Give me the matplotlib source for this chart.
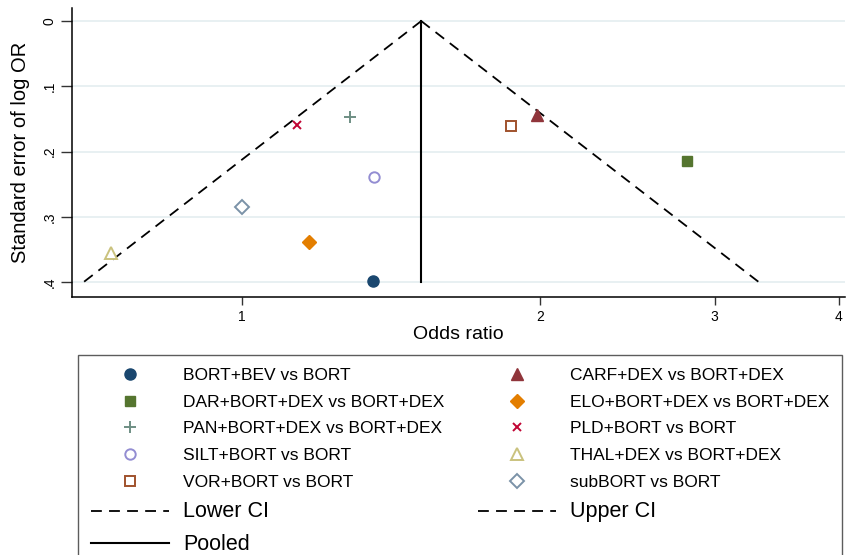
"""
Funnel plot of study odds ratios against the standard error of log OR
"""

import numpy as np
import matplotlib.pyplot as plt
from matplotlib.lines import Line2D

# study comparisons, odds ratios and standard errors of log OR
studies = ['BORT+BEV vs BORT', 'CARF+DEX vs BORT+DEX', 'DAR+BORT+DEX vs BORT+DEX',
           'ELO+BORT+DEX vs BORT+DEX', 'PAN+BORT+DEX vs BORT+DEX', 'PLD+BORT vs BORT',
           'SILT+BORT vs BORT', 'THAL+DEX vs BORT+DEX', 'VOR+BORT vs BORT', 'subBORT vs BORT']
odds_ratio = [1.357, 1.986, 2.814, 1.170, 1.286, 1.137, 1.360, 0.738, 1.870, 1.000]
se_log_or = [0.398, 0.144, 0.215, 0.339, 0.147, 0.159, 0.239, 0.356, 0.161, 0.285]

# pooled estimate and the standard error range of the funnel
pooled_or = 1.517
se_range = [0.0, 0.4]

# stata s2color palette and symbols, in study order
colors = ['#1a476f', '#90353b', '#55752f', '#e37e00', '#6e8e84',
          '#c10534', '#938dd2', '#cac27e', '#a0522d', '#7b92a8']
markers = ['o', '^', 's', 'D', '+', 'x', 'o', '^', 's', 'D']
hollow = [False]*6 + [True]*4
msizes = [8, 8.5, 7.5, 7.5, 8, 5.5, 7.5, 8, 7.5, 7.5]

plt.rcParams['font.family'] = ['Liberation Sans', 'DejaVu Sans']
plt.close('all')
fig = plt.figure(figsize=(8.48, 5.55), dpi=100)
ax = fig.add_axes([72/848, 1-297/555, (845-72)/848, (297-8)/555])

# funnel limits: 95% pseudo confidence lines
se = np.array(se_range)
lower = np.exp(np.log(pooled_or) - 1.96*se)
upper = np.exp(np.log(pooled_or) + 1.96*se)
ax.plot(lower, se, color='black', lw=1.3, dashes=(6, 4), zorder=2)
ax.plot(upper, se, color='black', lw=1.3, dashes=(6, 4), zorder=2)
ax.plot([pooled_or, pooled_or], se, color='black', lw=1.5, zorder=2)

handles = []
for name, orv, s, c, m, h, ms in zip(studies, odds_ratio, se_log_or, colors, markers, hollow, msizes):
    kw = dict(marker=m, ms=ms, linestyle='none', label=name)
    if h:
        kw.update(mfc='white', mec=c, mew=1.4)
    elif m in ('+', 'x'):
        kw.update(color=c, mew=1.4)
    else:
        kw.update(color=c, mec=c)
    ln, = ax.plot([orv], [s], zorder=3, **kw)
    handles.append(ln)

ax.set_xscale('log')
ax.set_xlim(0.674, 4.06)
ax.set_ylim(0.423, -0.02)
ax.set_xticks([1, 2, 3, 4])
ax.set_xticklabels(['1', '2', '3', '4'])
ax.xaxis.set_minor_locator(plt.NullLocator())
ax.set_yticks([0, 0.1, 0.2, 0.3, 0.4])
ax.set_yticklabels(['0', '.1', '.2', '.3', '.4'], rotation=90, va='center')
ax.tick_params(axis='both', labelsize=10, length=6, width=1, color='#333333')
ax.tick_params(axis='y', length=8, pad=3)
ax.grid(axis='y', color='#e4eef0', lw=1.2, zorder=0)
for sp in ['top', 'right']:
    ax.spines[sp].set_visible(False)
ax.spines['left'].set_linewidth(1.1)
ax.spines['bottom'].set_linewidth(1.1)
ax.set_xlabel('Odds ratio', fontsize=14, labelpad=1)
ax.set_ylabel('Standard error of log OR', fontsize=14.5, labelpad=9)

# legend, filled column by column to read row-wise
lower_h = Line2D([], [], color='black', lw=1.3, dashes=(6, 4), label='Lower CI')
upper_h = Line2D([], [], color='black', lw=1.3, dashes=(6, 4), label='Upper CI')
pooled_h = Line2D([], [], color='black', lw=1.5, label='Pooled')
col1 = [handles[i] for i in (0, 2, 4, 6, 8)] + [lower_h, pooled_h]
col2 = [handles[i] for i in (1, 3, 5, 7, 9)] + [upper_h]
leg = fig.legend(handles=col1 + col2, ncol=2, loc='upper left',
                 bbox_to_anchor=(78/848, 0, (842-78)/848, 1-355/555), mode='expand',
                 fontsize=12.5, frameon=True, fancybox=False, edgecolor='#333333',
                 handlelength=4.5, handletextpad=0.8, borderpad=0.75, labelspacing=0.66,
                 borderaxespad=0)
leg.get_frame().set_linewidth(1.0)
for t in leg.get_texts():
    if t.get_text() in ('Lower CI', 'Upper CI', 'Pooled'):
        t.set_fontsize(15.5)

fig.savefig('out.png', dpi=100)
